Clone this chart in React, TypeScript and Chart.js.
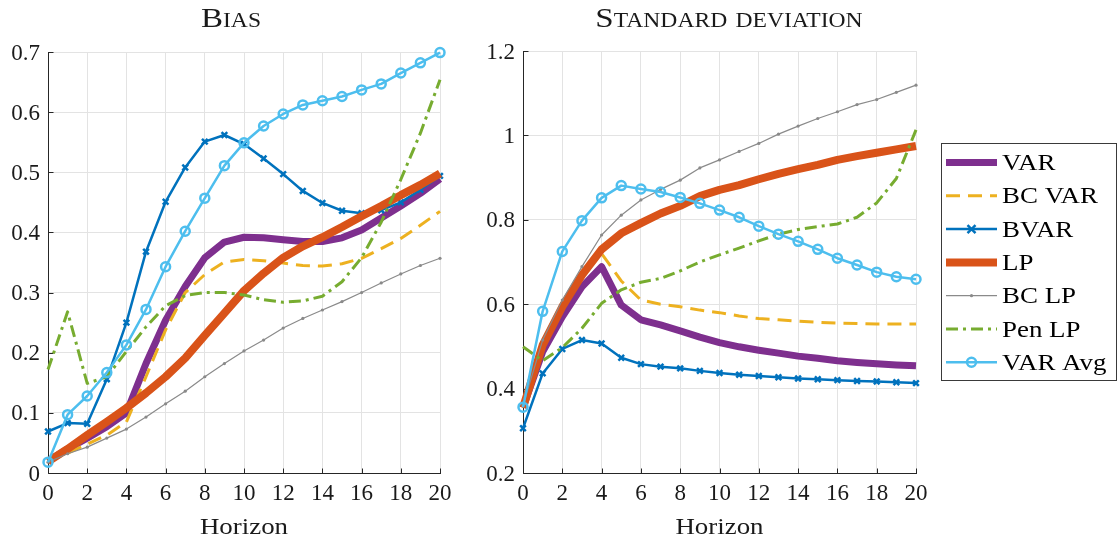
import React, { useEffect, useRef } from "react";
import { Chart, registerables } from "chart.js";

Chart.register(...registerables);

// ---------------- data ----------------
const horizons = [0, 1, 2, 3, 4, 5, 6, 7, 8, 9, 10, 11, 12, 13, 14, 15, 16, 17, 18, 19, 20];
const seriesNames = ["VAR", "BC VAR", "BVAR", "LP", "BC LP", "Pen LP", "VAR Avg"];
const xTickLabels = ["0", "2", "4", "6", "8", "10", "12", "14", "16", "18", "20"];
const biasTickLabels = ["0", "0.1", "0.2", "0.3", "0.4", "0.5", "0.6", "0.7"];
const sdTickLabels = ["0.2", "0.4", "0.6", "0.8", "1", "1.2"];
const xAxisTitle = "Horizon";
const biasTitle = "Bias";
const sdTitle = "Standard deviation";

// Bias panel
const biasVAR = [0.02, 0.04, 0.058, 0.077, 0.1, 0.182, 0.254, 0.31, 0.358, 0.384, 0.392, 0.391, 0.388, 0.385, 0.385, 0.391, 0.404, 0.424, 0.444, 0.465, 0.489];
const biasBCVAR = [0.02, 0.033, 0.048, 0.063, 0.085, 0.16, 0.238, 0.3, 0.33, 0.351, 0.355, 0.353, 0.349, 0.345, 0.344, 0.348, 0.357, 0.373, 0.39, 0.412, 0.435];
const biasBVAR = [0.069, 0.083, 0.082, 0.156, 0.25, 0.368, 0.451, 0.508, 0.551, 0.562, 0.547, 0.523, 0.497, 0.469, 0.449, 0.436, 0.432, 0.437, 0.45, 0.471, 0.494];
const biasLP = [0.019, 0.04, 0.063, 0.085, 0.108, 0.133, 0.16, 0.191, 0.229, 0.266, 0.303, 0.332, 0.358, 0.377, 0.392, 0.409, 0.427, 0.444, 0.462, 0.479, 0.498];
const biasBCLP = [0.018, 0.032, 0.043, 0.058, 0.073, 0.093, 0.115, 0.136, 0.16, 0.182, 0.203, 0.221, 0.241, 0.257, 0.271, 0.285, 0.3, 0.316, 0.331, 0.345, 0.357];
const biasPenLP = [0.172, 0.268, 0.149, 0.16, 0.202, 0.243, 0.278, 0.295, 0.3, 0.3, 0.296, 0.288, 0.284, 0.286, 0.294, 0.318, 0.358, 0.417, 0.488, 0.565, 0.654];
const biasVARAvg = [0.018, 0.097, 0.128, 0.167, 0.213, 0.272, 0.343, 0.402, 0.457, 0.511, 0.549, 0.577, 0.597, 0.612, 0.619, 0.626, 0.637, 0.647, 0.665, 0.682, 0.699];

// Standard deviation panel
const sdVAR = [0.355, 0.487, 0.57, 0.641, 0.689, 0.598, 0.563, 0.551, 0.537, 0.522, 0.509, 0.499, 0.491, 0.484, 0.477, 0.472, 0.466, 0.462, 0.459, 0.456, 0.454];
const sdBCVAR = [0.355, 0.5, 0.592, 0.665, 0.72, 0.655, 0.61, 0.6, 0.594, 0.586, 0.58, 0.572, 0.566, 0.563, 0.56, 0.557, 0.555, 0.554, 0.553, 0.553, 0.553];
const sdBVAR = [0.306, 0.436, 0.494, 0.515, 0.507, 0.473, 0.458, 0.452, 0.448, 0.442, 0.437, 0.433, 0.43, 0.427, 0.424, 0.422, 0.42, 0.418, 0.417, 0.415, 0.413];
const sdLP = [0.355, 0.503, 0.594, 0.669, 0.73, 0.768, 0.792, 0.815, 0.833, 0.856, 0.871, 0.882, 0.896, 0.909, 0.92, 0.93, 0.942, 0.951, 0.959, 0.967, 0.975];
const sdBCLP = [0.36, 0.515, 0.61, 0.689, 0.764, 0.811, 0.847, 0.872, 0.894, 0.923, 0.942, 0.962, 0.981, 1.003, 1.022, 1.04, 1.056, 1.073, 1.085, 1.102, 1.119];
const sdPenLP = [0.499, 0.466, 0.497, 0.543, 0.602, 0.634, 0.652, 0.661, 0.679, 0.7, 0.717, 0.733, 0.75, 0.766, 0.777, 0.784, 0.79, 0.806, 0.84, 0.898, 1.013];
const sdVARAvg = [0.356, 0.583, 0.725, 0.798, 0.852, 0.881, 0.873, 0.866, 0.853, 0.839, 0.823, 0.806, 0.785, 0.766, 0.749, 0.73, 0.709, 0.693, 0.676, 0.665, 0.659];

// ---------------- styles ----------------
type Marker = "none" | "x" | "o" | "dot";
const STYLES: { color: string; width: number; dash: number[]; marker: Marker }[] = [
  { color: "#7E2F8E", width: 7, dash: [], marker: "none" },
  { color: "#EDB120", width: 3, dash: [14, 8], marker: "none" },
  { color: "#0072BD", width: 2.5, dash: [], marker: "x" },
  { color: "#D95319", width: 8, dash: [], marker: "none" },
  { color: "#8a8a8a", width: 1.2, dash: [], marker: "dot" },
  { color: "#77AC30", width: 3, dash: [12, 5, 3, 5], marker: "none" },
  { color: "#4DBEEE", width: 2.5, dash: [], marker: "o" },
];

const FONT = '"Liberation Serif", "Times New Roman", serif';
const TEXT_COLOR = "#1a1a1a";
const AXIS_COLOR = "#262626";
const GRID_COLOR = "#e3e3e3";

function drawText(
  ctx: CanvasRenderingContext2D,
  text: string,
  x: number,
  y: number,
  size: number,
  align: CanvasTextAlign,
  stretch = 1,
  color = TEXT_COLOR
) {
  ctx.save();
  ctx.font = `${size}px ${FONT}`;
  ctx.fillStyle = color;
  ctx.textBaseline = "alphabetic";
  ctx.textAlign = align;
  ctx.translate(x, y);
  ctx.scale(stretch, 1);
  ctx.fillText(text, 0, 0);
  ctx.restore();
}

function drawMarker(ctx: CanvasRenderingContext2D, marker: Marker, x: number, y: number, color: string) {
  ctx.save();
  ctx.setLineDash([]);
  ctx.strokeStyle = color;
  ctx.fillStyle = color;
  if (marker === "x") {
    ctx.lineWidth = 2.5;
    const r = 4;
    ctx.beginPath();
    ctx.moveTo(x - r, y - r);
    ctx.lineTo(x + r, y + r);
    ctx.moveTo(x - r, y + r);
    ctx.lineTo(x + r, y - r);
    ctx.stroke();
  } else if (marker === "o") {
    ctx.lineWidth = 2.5;
    ctx.beginPath();
    ctx.arc(x, y, 4.5, 0, Math.PI * 2);
    ctx.stroke();
  } else if (marker === "dot") {
    ctx.beginPath();
    ctx.arc(x, y, 1.6, 0, Math.PI * 2);
    ctx.fill();
  }
  ctx.restore();
}

function makeDatasets(values: number[][]) {
  return values.map((vals, i) => {
    const s = STYLES[i];
    return {
      label: seriesNames[i],
      data: vals.map((v, j) => ({ x: horizons[j], y: v })),
      borderColor: s.color,
      backgroundColor: s.color,
      borderWidth: s.width,
      borderDash: s.dash,
      borderCapStyle: "butt" as const,
      borderJoinStyle: "round" as const,
      tension: 0,
      fill: false,
      order: 10 - i,
      clip: false as const,
      pointStyle: s.marker === "x" ? ("crossRot" as const) : ("circle" as const),
      pointRadius: s.marker === "x" ? 4 : s.marker === "o" ? 4.5 : s.marker === "dot" ? 1.6 : 0,
      pointHoverRadius: s.marker === "x" ? 4 : s.marker === "o" ? 4.5 : s.marker === "dot" ? 1.6 : 0,
      pointBorderWidth: s.marker === "x" || s.marker === "o" ? 2.5 : 0,
      pointBackgroundColor: s.marker === "o" ? "rgba(0,0,0,0)" : s.color,
      pointBorderColor: s.color,
    };
  });
}

type PanelCfg = {
  x: number;
  w: number;
  left: number;
  right: number;
  top: number;
  bottom: number;
  yTicks: string[];
  title: string;
  titleX: number;
  legend: boolean;
  values: number[][];
};

function Panel({ cfg }: { cfg: PanelCfg }) {
  const ref = useRef<HTMLCanvasElement>(null);
  useEffect(() => {
    const canvas = ref.current;
    if (!canvas) return;
    const yVals = cfg.yTicks.map((t) => parseFloat(t));
    const xVals = xTickLabels.map((t) => parseFloat(t));

    const deco = {
      id: "deco",
      beforeDatasetsDraw(chart: any) {
        const ctx: CanvasRenderingContext2D = chart.ctx;
        const a = chart.chartArea;
        const xs = chart.scales.x;
        const ys = chart.scales.y;
        ctx.save();
        ctx.strokeStyle = AXIS_COLOR;
        ctx.lineWidth = 1;
        ctx.beginPath();
        const lx = Math.round(a.left) + 0.5;
        const by = Math.round(a.bottom) + 0.5;
        ctx.moveTo(lx, Math.round(a.top));
        ctx.lineTo(lx, by);
        ctx.lineTo(Math.round(a.right) + 1, by);
        // inward ticks
        xVals.forEach((v) => {
          const px = Math.round(xs.getPixelForValue(v)) + 0.5;
          ctx.moveTo(px, by);
          ctx.lineTo(px, by - 5);
        });
        yVals.forEach((v) => {
          const py = Math.round(ys.getPixelForValue(v)) + 0.5;
          ctx.moveTo(lx, py);
          ctx.lineTo(lx + 5, py);
        });
        ctx.stroke();
        ctx.restore();
      },
      afterDraw(chart: any) {
        const ctx: CanvasRenderingContext2D = chart.ctx;
        const a = chart.chartArea;
        const xs = chart.scales.x;
        const ys = chart.scales.y;
        // tick labels
        xTickLabels.forEach((t, i) => {
          drawText(ctx, t, xs.getPixelForValue(xVals[i]), a.bottom + 27, 23, "center");
        });
        cfg.yTicks.forEach((t, i) => {
          drawText(ctx, t, a.left - 8, ys.getPixelForValue(yVals[i]) + 7.5, 23, "right");
        });
        // axis title
        drawText(ctx, xAxisTitle, (a.left + a.right) / 2, 534, 24, "center", 1.12);
        // panel title (small caps)
        ctx.save();
        ctx.font = `28px ${FONT}`;
        (ctx as any).fontVariantCaps = "small-caps";
        ctx.fillStyle = TEXT_COLOR;
        ctx.textAlign = "center";
        ctx.textBaseline = "alphabetic";
        ctx.translate(cfg.titleX, 27);
        ctx.scale(1.18, 1);
        ctx.fillText(cfg.title, 0, 0);
        ctx.restore();

        if (cfg.legend) {
          const bx = 481.5;
          const byTop = 143.5;
          const bw = 175;
          const bh = 237;
          ctx.save();
          ctx.fillStyle = "#ffffff";
          ctx.fillRect(bx, byTop, bw, bh);
          ctx.strokeStyle = "#3a3a3a";
          ctx.lineWidth = 1;
          ctx.strokeRect(bx, byTop, bw, bh);
          ctx.restore();
          seriesNames.forEach((name, k) => {
            const s = STYLES[k];
            const cy = 162.5 + 33.3 * k;
            ctx.save();
            ctx.strokeStyle = s.color;
            ctx.lineWidth = s.width;
            ctx.lineCap = "butt";
            ctx.setLineDash(s.dash);
            ctx.beginPath();
            ctx.moveTo(486, cy);
            ctx.lineTo(537, cy);
            ctx.stroke();
            ctx.restore();
            drawMarker(ctx, s.marker, 511.5, cy, s.color);
            drawText(ctx, name, 542, cy + 7.5, 23, "left", 1.17, "#000");
          });
        }
      },
    };

    const chart = new Chart(canvas, {
      type: "line",
      data: { datasets: makeDatasets(cfg.values) as any },
      options: {
        responsive: false,
        animation: false,
        devicePixelRatio: 1,
        events: [],
        layout: {
          padding: { top: cfg.top, right: cfg.w - cfg.right, bottom: 0, left: 0 },
        },
        plugins: {
          legend: { display: false },
          title: { display: false },
          tooltip: { enabled: false },
        },
        scales: {
          x: {
            type: "linear",
            min: 0,
            max: 20,
            ticks: { display: false },
            grid: { color: GRID_COLOR, lineWidth: 1, drawTicks: false },
            border: { display: false },
            afterBuildTicks: (s: any) => {
              s.ticks = xVals.map((v) => ({ value: v }));
            },
            afterFit: (s: any) => {
              s.height = 538 - cfg.bottom;
            },
          },
          y: {
            type: "linear",
            min: yVals[0],
            max: yVals[yVals.length - 1],
            ticks: { display: false },
            grid: { color: GRID_COLOR, lineWidth: 1, drawTicks: false },
            border: { display: false },
            afterBuildTicks: (s: any) => {
              s.ticks = yVals.map((v) => ({ value: v }));
            },
            afterFit: (s: any) => {
              s.width = cfg.left;
            },
          },
        },
      },
      plugins: [deco],
    });
    return () => chart.destroy();
  }, []);
  return (
    <canvas
      ref={ref}
      width={cfg.w}
      height={538}
      style={{ position: "absolute", left: cfg.x, top: 0, width: cfg.w, height: 538 }}
    />
  );
}

const leftCfg: PanelCfg = {
  x: 0,
  w: 460,
  left: 48,
  right: 440,
  top: 52,
  bottom: 473,
  yTicks: biasTickLabels,
  title: biasTitle,
  titleX: 231,
  legend: false,
  values: [biasVAR, biasBCVAR, biasBVAR, biasLP, biasBCLP, biasPenLP, biasVARAvg],
};

const rightCfg: PanelCfg = {
  x: 460,
  w: 660,
  left: 63,
  right: 456,
  top: 51,
  bottom: 473,
  yTicks: sdTickLabels,
  title: sdTitle,
  titleX: 269,
  legend: true,
  values: [sdVAR, sdBCVAR, sdBVAR, sdLP, sdBCLP, sdPenLP, sdVARAvg],
};

export default function App() {
  return (
    <div
      style={{
        position: "fixed",
        left: 0,
        top: 0,
        width: 1120,
        height: 538,
        background: "#ffffff",
        overflow: "hidden",
      }}
    >
      <Panel cfg={leftCfg} />
      <Panel cfg={rightCfg} />
    </div>
  );
}
